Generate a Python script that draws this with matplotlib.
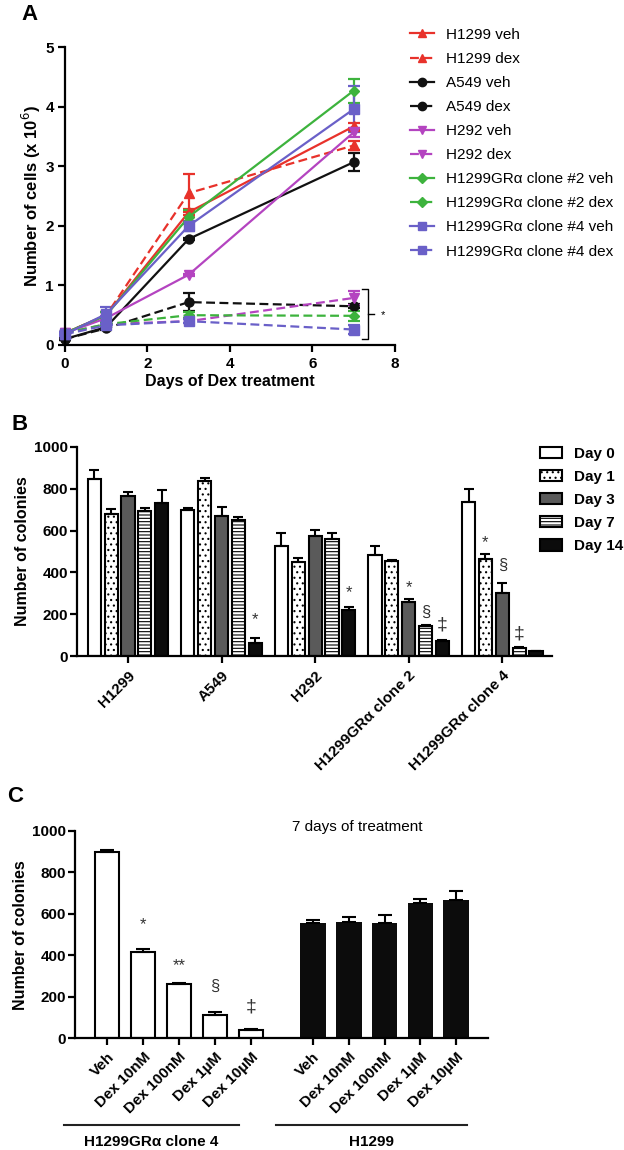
import numpy as np
import matplotlib
matplotlib.use('Agg')
import matplotlib.pyplot as plt
from matplotlib.lines import Line2D

plt.rcParams['font.family'] = ['Liberation Sans', 'DejaVu Sans']
plt.rcParams['hatch.linewidth'] = 0.8

# ---- panel A data: days vs cell number (x 10^6)
days = [0, 1, 3, 7]
series_names = ['H1299 veh', 'H1299 dex', 'A549 veh', 'A549 dex', 'H292 veh', 'H292 dex',
                'H1299GR\u03b1 clone #2 veh', 'H1299GR\u03b1 clone #2 dex',
                'H1299GR\u03b1 clone #4 veh', 'H1299GR\u03b1 clone #4 dex']
h1299_veh = [0.20, 0.50, 2.23, 3.67]
h1299_dex = [0.20, 0.50, 2.55, 3.35]
a549_veh = [0.10, 0.30, 1.78, 3.07]
a549_dex = [0.10, 0.28, 0.72, 0.65]
h292_veh = [0.20, 0.45, 1.18, 3.57]
h292_dex = [0.20, 0.35, 0.40, 0.79]
gr2_veh = [0.20, 0.50, 2.15, 4.27]
gr2_dex = [0.20, 0.35, 0.50, 0.49]
gr4_veh = [0.18, 0.52, 2.00, 3.96]
gr4_dex = [0.18, 0.33, 0.40, 0.26]
h1299_veh_err = [0.02, 0.05, 0.05, 0.06]
h1299_dex_err = [0.02, 0.05, 0.32, 0.07]
a549_veh_err = [0.01, 0.02, 0.02, 0.15]
a549_dex_err = [0.01, 0.02, 0.15, 0.03]
h292_veh_err = [0.02, 0.03, 0.02, 0.08]
h292_dex_err = [0.02, 0.03, 0.03, 0.12]
gr2_veh_err = [0.02, 0.06, 0.12, 0.20]
gr2_dex_err = [0.02, 0.03, 0.05, 0.08]
gr4_veh_err = [0.03, 0.12, 0.08, 0.38]
gr4_dex_err = [0.02, 0.03, 0.03, 0.08]

# ---- panel B data: colonies per cell line and day
cell_lines = ['H1299', 'A549', 'H292', 'H1299GR\u03b1 clone 2', 'H1299GR\u03b1 clone 4']
day_labels = ['Day 0', 'Day 1', 'Day 3', 'Day 7', 'Day 14']
day0 = [846, 698, 525, 483, 738]
day1 = [677, 835, 450, 455, 465]
day3 = [766, 670, 575, 258, 300]
day7 = [693, 650, 560, 145, 38]
day14 = [731, 65, 220, 75, 25]
day0_err = [43, 8, 65, 42, 62]
day1_err = [25, 15, 20, 5, 25]
day3_err = [19, 43, 28, 15, 48]
day7_err = [15, 15, 27, 4, 5]
day14_err = [62, 22, 15, 5, 2]

# ---- panel C data: 7 days treatment
dose_labels = ['Veh', 'Dex 10nM', 'Dex 100nM', 'Dex 1\u00b5M', 'Dex 10\u00b5M']
clone4_colonies = [900, 415, 263, 112, 40]
clone4_err = [7, 18, 5, 15, 4]
h1299_colonies = [557, 562, 558, 653, 665]
h1299_err = [13, 22, 35, 20, 45]
clone4_marks = ['', '*', '**', '\u00a7', '\u2021']

fig = plt.figure(figsize=(6.24, 11.5), dpi=100)


def style_axes(ax):
    for s in ['top', 'right']:
        ax.spines[s].set_visible(False)
    for s in ['left', 'bottom']:
        ax.spines[s].set_linewidth(1.6)
    ax.tick_params(width=1.6, length=5, labelsize=11)
    ax.tick_params(axis='y', pad=1.5)
    for lab in ax.get_yticklabels():
        lab.set_fontweight('bold')


# ================= A
axA = fig.add_axes([0.104, 0.70, 0.529, 0.259])
colors = ['#e8322b', '#e8322b', '#111111', '#111111', '#b444c0', '#b444c0',
          '#3db33d', '#3db33d', '#6a60c8', '#6a60c8']
markers = ['^', '^', 'o', 'o', 'v', 'v', 'D', 'D', 's', 's']
sizes = [6.5, 6.5, 6.5, 6.5, 6.5, 6.5, 5.5, 5.5, 6.5, 6.5]
ys = [h1299_veh, h1299_dex, a549_veh, a549_dex, h292_veh, h292_dex,
      gr2_veh, gr2_dex, gr4_veh, gr4_dex]
errs = [h1299_veh_err, h1299_dex_err, a549_veh_err, a549_dex_err, h292_veh_err,
        h292_dex_err, gr2_veh_err, gr2_dex_err, gr4_veh_err, gr4_dex_err]
handles = []
for i in range(len(ys)):
    ls = (0, (4, 2)) if i % 2 == 1 else '-'
    axA.errorbar(days, ys[i], yerr=errs[i], color=colors[i], marker=markers[i],
                 markersize=sizes[i], linestyle=ls, linewidth=1.6, capsize=4,
                 elinewidth=1.6, capthick=1.6, clip_on=False)
    handles.append(Line2D([], [], color=colors[i], marker=markers[i], markersize=sizes[i] - 0.5,
                          linestyle=ls, linewidth=1.6, label=series_names[i]))
axA.set_xlim(0, 8)
axA.set_ylim(0, 5)
axA.set_xticks([0, 2, 4, 6, 8])
axA.set_yticks([0, 1, 2, 3, 4, 5])
style_axes(axA)
axA.tick_params(axis='y', pad=3)
for lab in axA.get_xticklabels():
    lab.set_fontweight('bold')
axA.set_xlabel('Days of Dex treatment', fontsize=11.5, fontweight='bold', labelpad=2)
axA.set_ylabel(r'Number of cells (x 10$^6$)', fontsize=12, fontweight='bold', labelpad=2)
# significance bracket
axA.plot([7.2, 7.35, 7.35, 7.2], [0.94, 0.94, 0.1, 0.1], color='black', lw=1, clip_on=False)
axA.plot([7.35, 7.5], [0.52, 0.52], color='black', lw=1, clip_on=False)
axA.text(7.7, 0.5, '*', fontsize=8, ha='center', va='center')
axA.legend(handles=handles, loc='upper left', bbox_to_anchor=(1.045, 1.065), frameon=False,
           fontsize=11, handlelength=1.55, labelspacing=0.66, handletextpad=0.8,
           borderaxespad=0, borderpad=0)
fig.text(30 / 624, 1 - 15 / 1150, 'A', fontsize=16, fontweight='bold', ha='center', va='center')

# ================= B
axB = fig.add_axes([0.1234, 0.4293, 0.761, 0.1823])
x = np.arange(len(cell_lines))
bar_w = 0.14
step = 0.18
b_vals = [day0, day1, day3, day7, day14]
b_errs = [day0_err, day1_err, day3_err, day7_err, day14_err]
b_face = ['white', 'white', '#5a5a5a', 'white', '#0c0c0c']
b_hatch = [None, '...', None, '-----', None]
for j in range(5):
    axB.bar(x + (j - 2) * step, b_vals[j], bar_w, yerr=[np.zeros(5), b_errs[j]],
            color=b_face[j], edgecolor='black', linewidth=1.5, hatch=b_hatch[j],
            label=day_labels[j], capsize=3.5,
            error_kw=dict(elinewidth=1.5, capthick=1.5, ecolor='black'))
# significance marks (day index, line index, symbol, height)
b_marks = [(4, 1, '*', 173), (4, 2, '*', 302), (2, 3, '*', 326), (3, 3, '\u00a7', 211),
           (4, 3, '\u2021', 150), (1, 4, '*', 540), (2, 4, '\u00a7', 435), (3, 4, '\u2021', 106)]
for d, c, sym, h in b_marks:
    fs = 14 if sym == '\u2021' else 12
    axB.text(x[c] + (d - 2) * step, h, sym, ha='center', va='center', fontsize=fs, color='#333333')
axB.set_xlim(-0.545, 4.53)
axB.set_ylim(0, 1000)
axB.set_yticks([0, 200, 400, 600, 800, 1000])
axB.set_xticks(x)
axB.set_xticklabels(cell_lines, rotation=45, ha='right', rotation_mode='anchor',
                    fontweight='bold', fontsize=11)
style_axes(axB)
axB.set_ylabel('Number of colonies', fontsize=11.5, fontweight='bold', labelpad=3)
axB.legend(loc='upper left', bbox_to_anchor=(0.975, 1.0), frameon=False,
           prop=dict(weight='bold', size=11), handlelength=1.45, handleheight=0.75,
           labelspacing=0.6, handletextpad=0.75, borderaxespad=0, borderpad=0)
fig.text(20 / 624, 1 - 425 / 1150, 'B', fontsize=16, fontweight='bold', ha='center', va='center')

# ================= C
axC = fig.add_axes([0.120, 0.0971, 0.662, 0.1803])
pos1 = np.arange(5)
pos2 = np.arange(5) + 5.72
axC.bar(pos1, clone4_colonies, 0.67, yerr=[np.zeros(5), clone4_err], color='white',
        edgecolor='black', linewidth=1.5, capsize=5,
        error_kw=dict(elinewidth=1.5, capthick=1.5, ecolor='black'))
axC.bar(pos2, h1299_colonies, 0.72, yerr=[np.zeros(5), h1299_err], color='#0c0c0c',
        edgecolor='#0c0c0c', linewidth=0, capsize=5,
        error_kw=dict(elinewidth=1.5, capthick=1.5, ecolor='black'))
c_heights = [0, 546, 353, 252, 152]
for i in range(1, 5):
    fs = 14 if clone4_marks[i] == '\u2021' else 12
    axC.text(pos1[i], c_heights[i], clone4_marks[i], ha='center', va='center', fontsize=fs, color='#333333')
axC.set_xlim(-0.9, 10.6)
axC.set_ylim(0, 1000)
axC.set_yticks([0, 200, 400, 600, 800, 1000])
axC.set_xticks(list(pos1) + list(pos2))
axC.set_xticklabels(dose_labels + dose_labels, rotation=45, ha='right',
                    rotation_mode='anchor', fontweight='bold', fontsize=11)
style_axes(axC)
axC.set_ylabel('Number of colonies', fontsize=11.5, fontweight='bold', labelpad=3)
fig.text(292 / 624, 1 - 827 / 1150, '7 days of treatment', fontsize=11, va='center')
fig.add_artist(Line2D([64 / 624, 239 / 624], [1 - 1125 / 1150] * 2, color='#222222', lw=1.5))
fig.add_artist(Line2D([276 / 624, 467 / 624], [1 - 1125 / 1150] * 2, color='#222222', lw=1.5))
fig.text(151 / 624, 1 - 1142 / 1150, 'H1299GR\u03b1 clone 4', fontsize=11, fontweight='bold',
         ha='center', va='center')
fig.text(371 / 624, 1 - 1142 / 1150, 'H1299', fontsize=11, fontweight='bold',
         ha='center', va='center')
fig.text(15 / 624, 1 - 797 / 1150, 'C', fontsize=16, fontweight='bold', ha='center', va='center')

fig.savefig('out.png', dpi=100)
